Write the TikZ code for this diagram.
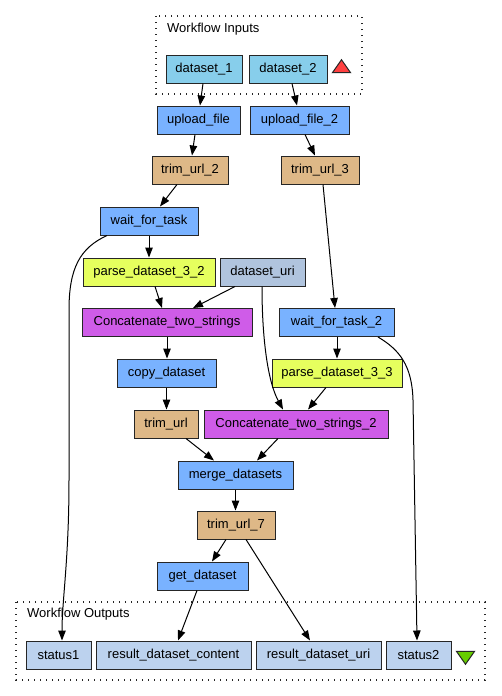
\documentclass[tikz,border=0pt]{standalone}
\usepackage{fontspec}
\setmainfont{Liberation Sans}
\usetikzlibrary{arrows.meta,shapes.geometric}
\definecolor{inport}{HTML}{87CEEB}
\definecolor{svc}{HTML}{79B2FF}
\definecolor{trim}{HTML}{DEB887}
\definecolor{xpath}{HTML}{E6FF5E}
\definecolor{const}{HTML}{B0C4DE}
\definecolor{bean}{HTML}{CF5CE8}
\definecolor{outport}{HTML}{BCD2EE}
\definecolor{redtri}{HTML}{FF4040}
\definecolor{greentri}{HTML}{66CD00}
\tikzset{
  box/.style={draw=black!85, line width=1pt, rectangle, inner sep=0pt, minimum height=28pt,
    font=\fontsize{13}{15}\selectfont},
  cluster/.style={draw=black!85, line width=1.4pt, dash pattern=on 1.4pt off 4.6pt},
  edge/.style={draw=black, line width=1pt, -{Triangle[length=10pt,width=7.5pt]}},
  lbl/.style={font=\fontsize{13}{15}\selectfont, inner sep=0pt, anchor=west}
}
\begin{document}
\begin{tikzpicture}[x=1pt,y=-1pt]
\useasboundingbox[fill=white] (0,0) rectangle (501,696);
% clusters
\draw[cluster] (156,16) rectangle (362,94);
\node[lbl] (inlbl) at (167,29) {Workflow Inputs};
\draw[cluster] (16,602) rectangle (485,680);
\node[lbl] (outlbl) at (27,614) {Workflow Outputs};
% nodes
\node[box, fill=inport, minimum width=76pt] (d1) at (204,69) {dataset\_1};
\node[box, fill=inport, minimum width=78pt] (d2) at (288,69) {dataset\_2};
\node[draw=black!85, line width=1pt, fill=redtri, isosceles triangle, shape border rotate=90,
  isosceles triangle apex angle=70, minimum height=13pt, minimum width=18pt, inner sep=0pt] (rt) at (341.5,68) {};
\node[box, fill=svc, minimum width=83pt] (uf1) at (198.5,120) {upload\_file};
\node[box, fill=svc, minimum width=99pt] (uf2) at (299.5,120) {upload\_file\_2};
\node[box, fill=trim, minimum width=76pt] (tu2) at (190,170) {trim\_url\_2};
\node[box, fill=trim, minimum width=78pt] (tu3) at (320,170) {trim\_url\_3};
\node[box, fill=svc, minimum width=98pt] (wft) at (149,221) {wait\_for\_task};
\node[box, fill=xpath, minimum width=132pt] (p32) at (149,272) {parse\_dataset\_3\_2};
\node[box, fill=const, minimum width=85pt] (duri) at (262.5,272) {dataset\_uri};
\node[box, fill=bean, minimum width=170pt] (cat) at (167,322.5) {Concatenate\_two\_strings};
\node[box, fill=svc, minimum width=115pt] (wft2) at (336.5,322.5) {wait\_for\_task\_2};
\node[box, fill=svc, minimum width=99pt] (copy) at (166.5,373) {copy\_dataset};
\node[box, fill=xpath, minimum width=130pt] (p33) at (337,373) {parse\_dataset\_3\_3};
\node[box, fill=trim, minimum width=64pt] (tu) at (166,424) {trim\_url};
\node[box, fill=bean, minimum width=184pt] (cat2) at (296,424) {Concatenate\_two\_strings\_2};
\node[box, fill=svc, minimum width=115pt] (merge) at (235.5,475) {merge\_datasets};
\node[box, fill=trim, minimum width=78pt] (tu7) at (236,525) {trim\_url\_7};
\node[box, fill=svc, minimum width=91pt] (get) at (202.5,576) {get\_dataset};
\node[box, fill=outport, minimum width=65pt] (s1) at (58.5,655) {status1};
\node[box, fill=outport, minimum width=155pt] (rdc) at (173.5,655) {result\_dataset\_content};
\node[box, fill=outport, minimum width=125pt] (rdu) at (318.5,655) {result\_dataset\_uri};
\node[box, fill=outport, minimum width=65pt] (s2) at (418.5,655) {status2};
\node[draw=black!85, line width=1pt, fill=greentri, isosceles triangle, shape border rotate=-90,
  isosceles triangle apex angle=70, minimum height=13pt, minimum width=18pt, inner sep=0pt] (gt) at (465.5,656) {};
% edges
\draw[edge] ([xshift=-1pt]d1.south) -- ([xshift=1.5pt]uf1.north);
\draw[edge] ([xshift=4pt]d2.south) -- ([xshift=-2.5pt]uf2.north);
\draw[edge] ([xshift=-3.5pt]uf1.south) -- ([xshift=2pt]tu2.north);
\draw[edge] ([xshift=5.5pt]uf2.south) -- ([xshift=-5pt]tu3.north);
\draw[edge] ([xshift=-13pt]tu2.south) -- ([xshift=11pt]wft.north);
\draw[edge] ([xshift=3pt]tu3.south) -- ([xshift=-1.5pt]wft2.north);
\draw[edge] (wft.south) -- (p32.north);
\draw[edge] ([xshift=-42pt]wft.south) .. controls (80,248) and (69,268) .. (69,310)
  -- (69,480) .. controls (69,560) and (62,600) .. ([xshift=3.5pt]s1.north);
\draw[edge] ([xshift=6pt]p32.south) -- ([xshift=-5pt]cat.north);
\draw[edge] ([xshift=-27.5pt]duri.south) -- ([xshift=26pt]cat.north);
\draw[edge] ([xshift=-0.5pt]duri.south) .. controls (262,340) and (268,382) .. ([xshift=-13pt]cat2.north);
\draw[edge] ([xshift=0.5pt]wft2.south) -- (p33.north);
\draw[edge] ([xshift=41.5pt]wft2.south) .. controls (400,350) and (412,366) .. (413,400)
  -- ([xshift=-1.5pt]s2.north);
\draw[edge] ([xshift=-11pt]p33.south) -- ([xshift=12pt]cat2.north);
\draw[edge] (cat.south) -- (cat.south |- copy.north);
\draw[edge] (copy.south) -- (copy.south |- tu.north);
\draw[edge] ([xshift=20pt]tu.south) -- ([xshift=-21.5pt]merge.north);
\draw[edge] ([xshift=-18pt]cat2.south) -- ([xshift=21.5pt]merge.north);
\draw[edge] (merge.south) -- (merge.south |- tu7.north);
\draw[edge] ([xshift=-10pt]tu7.south) -- ([xshift=9.5pt]get.north);
\draw[edge] ([xshift=10pt]tu7.south) -- ([xshift=-8.5pt]rdu.north);
\draw[edge] ([xshift=-5.5pt]get.south) -- ([xshift=4.5pt]rdc.north);
\end{tikzpicture}
\end{document}
